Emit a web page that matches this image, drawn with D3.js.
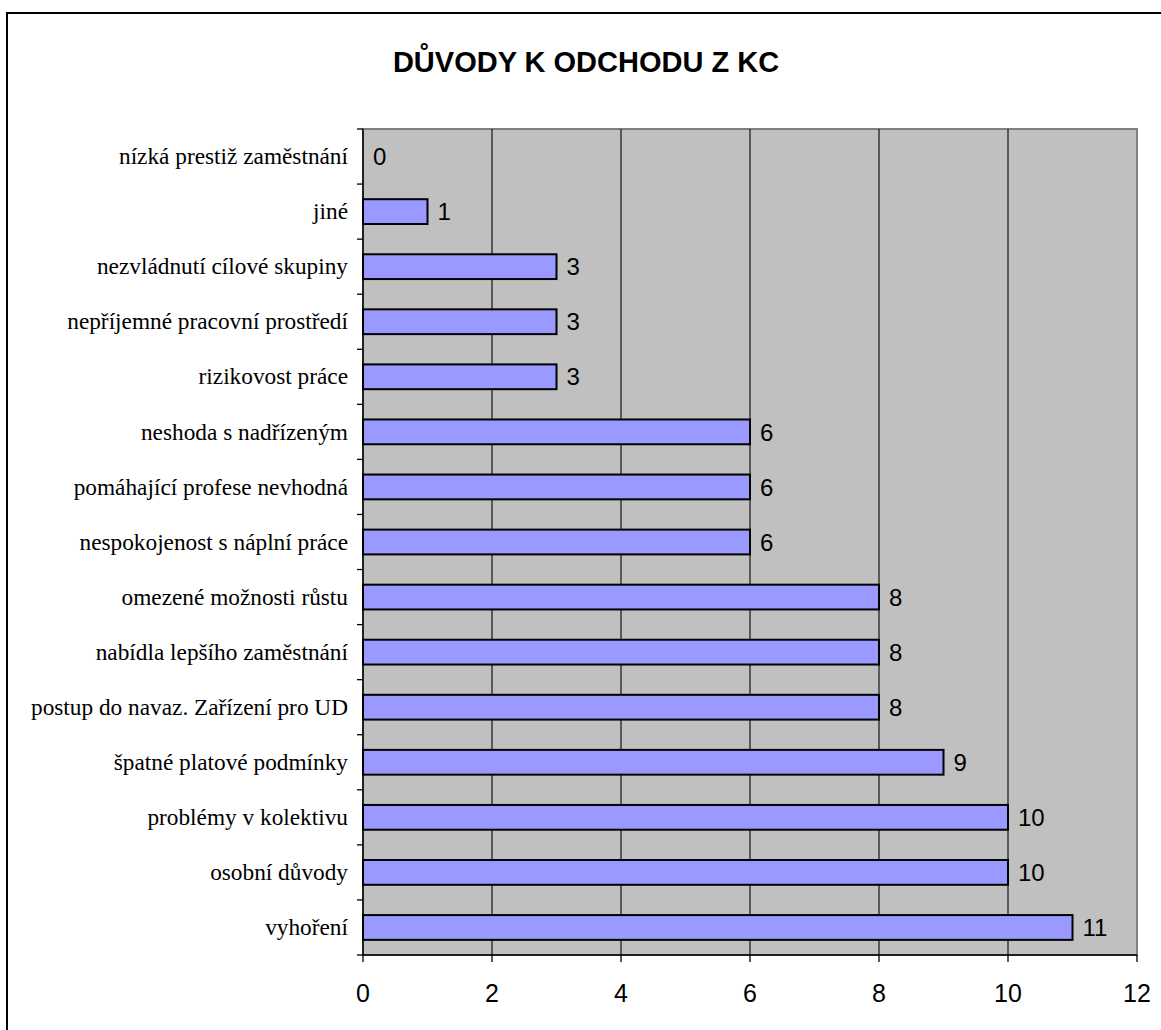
<!DOCTYPE html>
<html>
<head>
<meta charset="utf-8">
<script src="https://cdn.jsdelivr.net/npm/d3@7"></script>
<style>
  body { margin: 0; background: #fff; }
  svg { display: block; }
</style>
</head>
<body>
<div class="chart"></div>
<script>
// Categories top to bottom, as in the picture
var categories = [
    "nízká prestiž zaměstnání",
    "jiné",
    "nezvládnutí cílové skupiny",
    "nepříjemné pracovní prostředí",
    "rizikovost práce",
    "neshoda s nadřízeným",
    "pomáhající profese nevhodná",
    "nespokojenost s náplní práce",
    "omezené možnosti růstu",
    "nabídla lepšího zaměstnání",
    "postup do navaz. Zařízení pro UD",
    "špatné platové podmínky",
    "problémy v kolektivu",
    "osobní důvody",
    "vyhoření"
];
var values = [0, 1, 3, 3, 3, 6, 6, 6, 8, 8, 8, 9, 10, 10, 11];
var xTicks = [0, 2, 4, 6, 8, 10, 12];
var title = "DŮVODY K ODCHODU Z KC";

var width = 1161, height = 1030;
var plotLeft = 363, plotRight = 1137, plotTop = 129, plotBottom = 955;

var svg = d3.select(".chart").append("svg")
    .attr("width", width)
    .attr("height", height);

//Outer chart frame (runs off the right and bottom edge).
svg.append("rect")
    .attr("x", 7).attr("y", 13)
    .attr("width", 1200).attr("height", 1100)
    .attr("fill", "#fff")
    .attr("stroke", "#000")
    .attr("stroke-width", 2);

//Title.
svg.append("text")
    .attr("x", 586).attr("y", 72)
    .attr("text-anchor", "middle")
    .attr("font-family", "Arial, 'Liberation Sans', sans-serif")
    .attr("font-weight", "bold")
    .attr("font-size", 29)
    .text(title);

var x = d3.scaleLinear().domain([0, 12]).range([plotLeft, plotRight]);
var y = d3.scaleBand().domain(categories).range([plotTop, plotBottom]).paddingInner(0.55).paddingOuter(0.275);

//Plot background.
svg.append("rect")
    .attr("x", plotLeft).attr("y", plotTop)
    .attr("width", plotRight - plotLeft).attr("height", plotBottom - plotTop)
    .attr("fill", "#c0c0c0")
    .attr("stroke", "#808080")
    .attr("stroke-width", 2);

//Vertical gridlines.
svg.selectAll("line.grid").data(xTicks.slice(1, -1)).enter()
    .append("line")
    .attr("class", "grid")
    .attr("x1", function(d) { return x(d); })
    .attr("x2", function(d) { return x(d); })
    .attr("y1", plotTop).attr("y2", plotBottom)
    .attr("stroke", "#222")
    .attr("stroke-width", 1.3);

//Bars.
svg.selectAll("rect.bar").data(values).enter()
    .append("rect")
    .attr("class", "bar")
    .attr("x", x(0))
    .attr("y", function(d, i) { return y(categories[i]); })
    .attr("width", function(d) { return x(d) - x(0); })
    .attr("height", y.bandwidth())
    .attr("fill", function(d) { return d > 0 ? "#9999ff" : "none"; })
    .attr("stroke", function(d) { return d > 0 ? "#000" : "none"; })
    .attr("stroke-width", 2);

//Value labels.
svg.selectAll("text.val").data(values).enter()
    .append("text")
    .attr("class", "val")
    .attr("x", function(d) { return x(d) + 10; })
    .attr("y", function(d, i) { return y(categories[i]) + y.bandwidth() / 2; })
    .attr("dy", "0.36em")
    .attr("font-family", "Arial, 'Liberation Sans', sans-serif")
    .attr("font-size", 24)
    .text(function(d) { return d; });

//Y axis with ticks on band boundaries.
var step = (plotBottom - plotTop) / categories.length;
svg.append("line")
    .attr("x1", plotLeft).attr("x2", plotLeft)
    .attr("y1", plotTop).attr("y2", plotBottom)
    .attr("stroke", "#000").attr("stroke-width", 1.5);
svg.selectAll("line.ytick").data(d3.range(categories.length + 1)).enter()
    .append("line")
    .attr("class", "ytick")
    .attr("x1", plotLeft - 6).attr("x2", plotLeft)
    .attr("y1", function(i) { return plotTop + i * step; })
    .attr("y2", function(i) { return plotTop + i * step; })
    .attr("stroke", "#000").attr("stroke-width", 1.3);

svg.selectAll("text.cat").data(categories).enter()
    .append("text")
    .attr("class", "cat")
    .attr("x", plotLeft - 15)
    .attr("y", function(d) { return y(d) + y.bandwidth() / 2; })
    .attr("dy", "0.33em")
    .attr("text-anchor", "end")
    .attr("font-family", "'Liberation Serif', 'Times New Roman', serif")
    .attr("font-size", 23.3)
    .text(function(d) { return d; });

//X axis.
svg.append("line")
    .attr("x1", plotLeft).attr("x2", plotRight)
    .attr("y1", plotBottom).attr("y2", plotBottom)
    .attr("stroke", "#000").attr("stroke-width", 1.5);
svg.selectAll("line.xtick").data(xTicks).enter()
    .append("line")
    .attr("class", "xtick")
    .attr("x1", function(d) { return x(d); })
    .attr("x2", function(d) { return x(d); })
    .attr("y1", plotBottom).attr("y2", plotBottom + 7)
    .attr("stroke", "#000").attr("stroke-width", 1.3);
svg.selectAll("text.xlab").data(xTicks).enter()
    .append("text")
    .attr("class", "xlab")
    .attr("x", function(d) { return x(d); })
    .attr("y", 1002)
    .attr("text-anchor", "middle")
    .attr("font-family", "Arial, 'Liberation Sans', sans-serif")
    .attr("font-size", 25)
    .text(function(d) { return d; });
</script>
</body>
</html>
